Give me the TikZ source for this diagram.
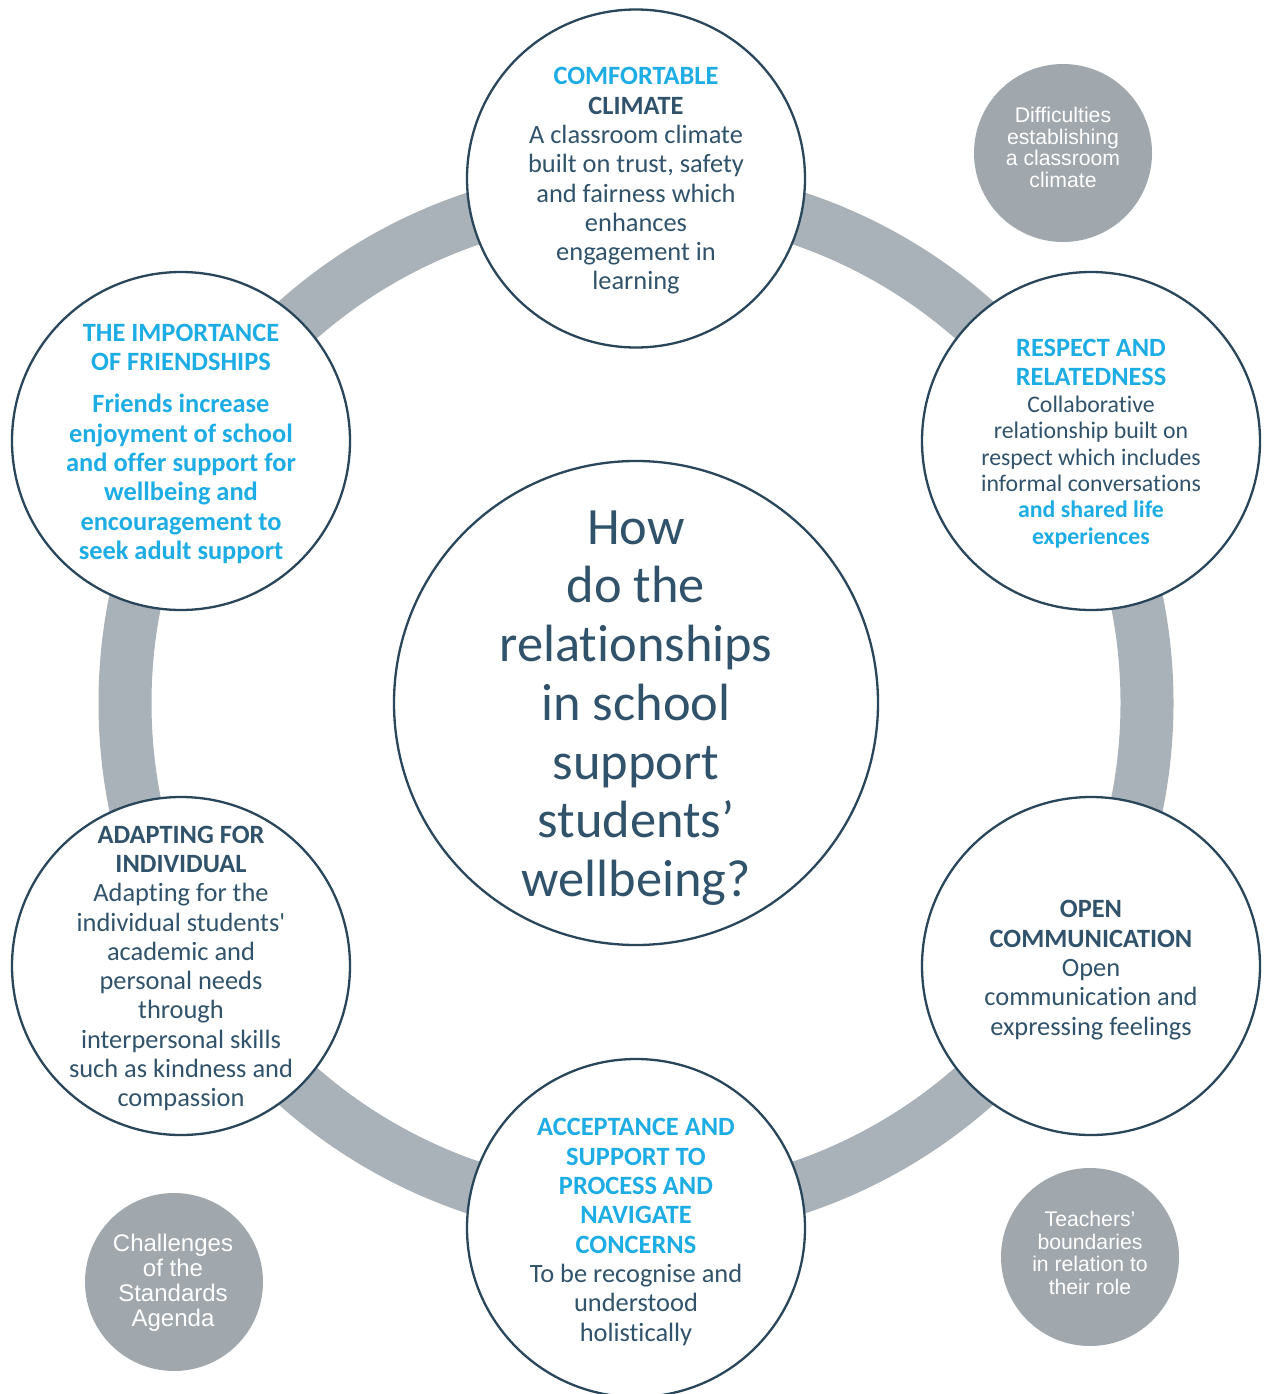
\documentclass[tikz,border=0pt]{standalone}
\usepackage{fontspec}
\newfontfamily\carl{Carlito}[Ligatures=NoCommon]
\newfontfamily\arl{Liberation Sans}
\definecolor{navy}{HTML}{30536B}
\definecolor{rimline}{HTML}{2A465B}
\definecolor{sky}{HTML}{1DADE4}
\definecolor{ringgray}{HTML}{AAB2B9}
\definecolor{dotgray}{HTML}{A0A8AD}

\begin{document}
\begin{tikzpicture}[x=1pt,y=-1pt,
  theme/.style={circle, draw=rimline, line width=2.3pt, fill=white, minimum size=338pt, inner sep=0pt},
  hub/.style={theme, minimum size=484pt},
  txt/.style={align=center, text=navy, inner sep=0pt, font=\carl\fontsize{26.4}{29.3}\selectfont},
  txtsky/.style={txt, text=sky, font=\carl\bfseries\fontsize{26.4}{29.3}\selectfont},
  txtsm/.style={txt, font=\carl\fontsize{23.8}{26.4}\selectfont},
  bigq/.style={txt, font=\carl\fontsize{52.4}{58.7}\selectfont},
  issue/.style={circle, fill=dotgray, minimum size=178pt, inner sep=0pt},
  issuetxt/.style={align=center, text=white, inner sep=0pt, font=\arl\fontsize{21.2}{21.8}\selectfont}
]
\useasboundingbox (0,0) rectangle (1270,1394);
\fill[white] (0,0) rectangle (1270,1394);

% the grey ring that links the six themes
\draw[ringgray, line width=53pt] (636,703) circle[radius=511];

% theme circles
\node[theme] (climate) at (636,178.5) {};
\node[theme] (respect) at (1091,441) {};
\node[theme] (friends) at (181,441) {};
\node[theme] (adapt)   at (181,966) {};
\node[theme] (opencom) at (1091,966) {};
\node[theme] (accept)  at (636,1228) {};
\node[hub]   (hub)     at (636,703) {};

% theme texts
\node[txt] (climatetxt) at (636,181) {{\bfseries\color{sky}COMFORTABLE}\\{\bfseries CLIMATE}\\A classroom climate\\built on trust, safety\\and fairness which\\enhances\\engagement in\\learning};

\node[txtsky] (respecthead) at (1091,362.5) {RESPECT AND\\RELATEDNESS};
\node[txtsm] (respectbody) at (1091,472) {Collaborative\\relationship built on\\respect which includes\\informal conversations\\{\bfseries\color{sky}and shared life}\\{\bfseries\color{sky}experiences}};

\node[txtsky] (friendshead) at (181,347.5) {THE IMPORTANCE\\OF FRIENDSHIPS};
\node[txtsky] (friendsbody) at (181,479) {Friends increase\\enjoyment of school\\and offer support for\\wellbeing and\\encouragement to\\seek adult support};

\node[txt] (adapttxt) at (181,968.5) {{\bfseries ADAPTING FOR}\\{\bfseries INDIVIDUAL}\\Adapting for the\\individual students'\\academic and\\personal needs\\through\\interpersonal skills\\such as kindness and\\compassion};

\node[txt] (opencomtxt) at (1091,970) {{\bfseries OPEN}\\{\bfseries COMMUNICATION}\\Open\\communication and\\expressing feelings};

\node[txt] (accepttxt) at (636,1232) {{\bfseries\color{sky}ACCEPTANCE AND}\\{\bfseries\color{sky}SUPPORT TO}\\{\bfseries\color{sky}PROCESS AND}\\{\bfseries\color{sky}NAVIGATE}\\{\bfseries\color{sky}CONCERNS}\\To be recognise and\\understood\\holistically};

\node[bigq] (hubtxt) at (636,708) {How\\do the\\relationships\\in school\\support\\students’\\wellbeing?};

% grey issue circles
\node[issue] (difficulty) at (1063,153) {};
\node[issuetxt] (difficultytxt) at (1063,147.5) {Difficulties\\establishing\\a classroom\\climate};

\node[issue] (boundaries) at (1090,1257) {};
\node[issuetxt, font=\arl\fontsize{21.2}{22.7}\selectfont] (boundariestxt) at (1090,1253) {Teachers’\\boundaries\\in relation to\\their role};

\node[issue] (standards) at (174,1282) {};
\node[issuetxt, font=\arl\fontsize{24}{25}\selectfont] (standardstxt) at (173,1283) {Challenges\\of the\\Standards\\Agenda};
\end{tikzpicture}
\end{document}
